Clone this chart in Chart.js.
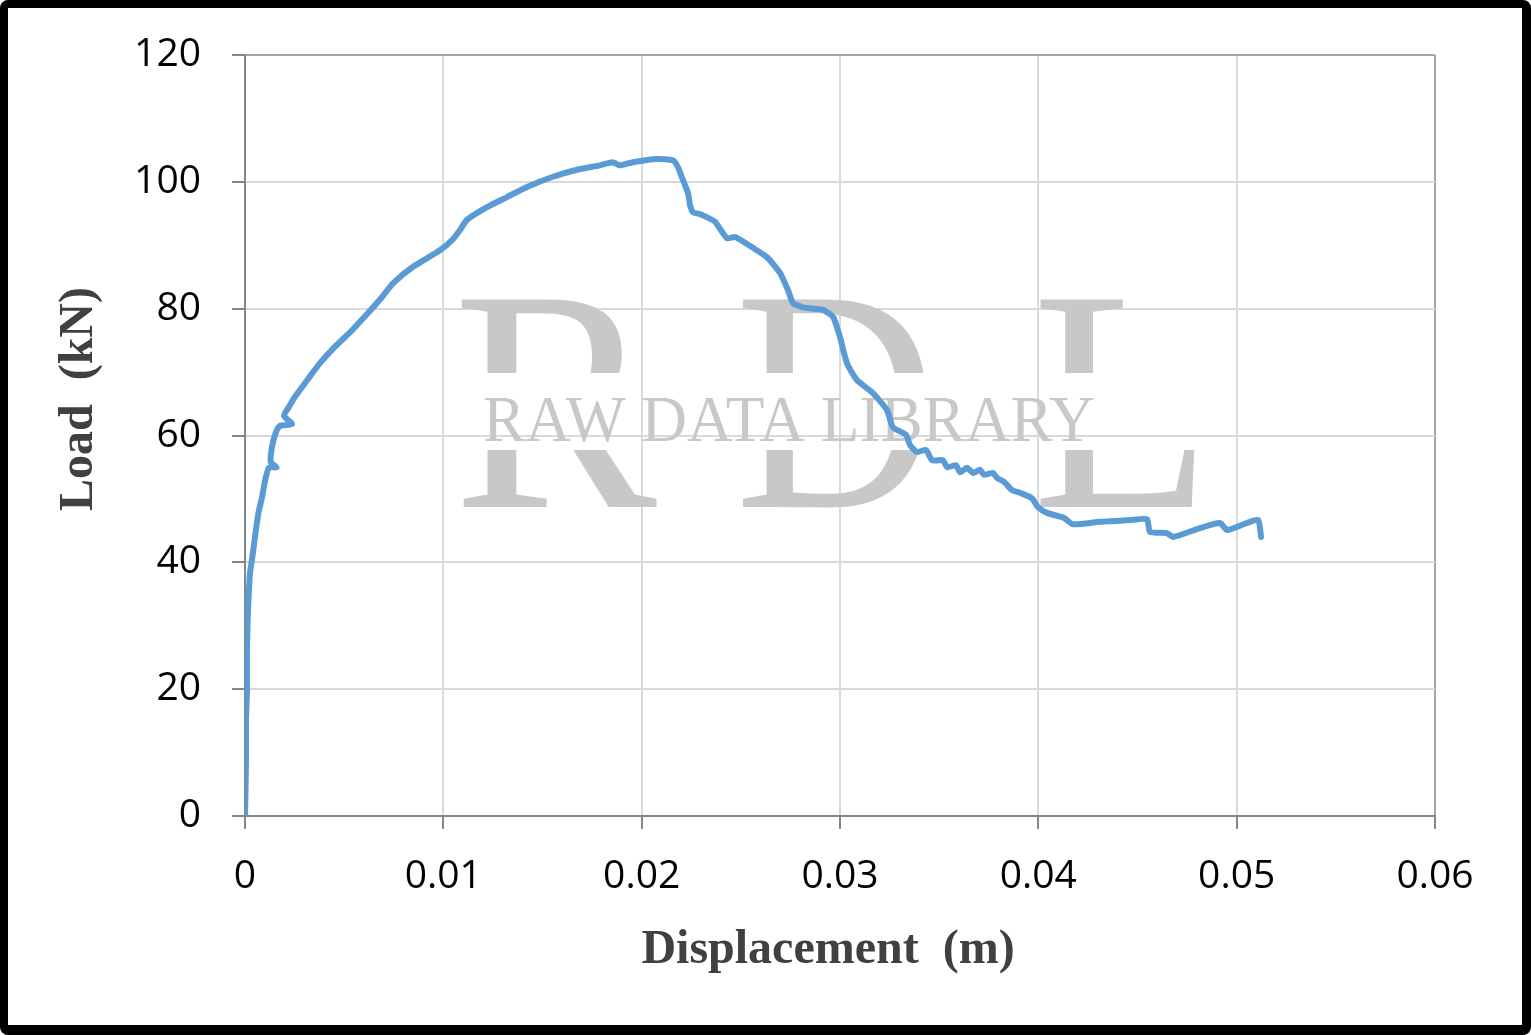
<!DOCTYPE html>
<html>
<head>
<meta charset="utf-8">
<script src="https://cdn.jsdelivr.net/npm/chart.js@4.4.0/dist/chart.umd.min.js"></script>
<style>
  html, body { margin: 0; padding: 0; background: #fff; }
  #frame {
    position: absolute; left: 0; top: 0;
    width: 1531px; height: 1035px; box-sizing: border-box;
    border-style: solid; border-color: #000;
    border-width: 8px 9px 10px 8px; border-radius: 8px;
    background: #fff;
  }
  #frame canvas { display: block; }
</style>
</head>
<body>
<div id="frame"><canvas id="loadChart" width="1514" height="1017"></canvas></div>
<script>
// Load-displacement curve
const displacement = [
  0, 0.00005, 0.00005, 0.0001, 0.0001, 0.00015, 0.0002, 0.00025, 0.00035, 0.00045,
  0.00066, 0.00086, 0.001, 0.0012, 0.0016, 0.0013, 0.00136, 0.00156, 0.00176, 0.00237,
  0.00197, 0.00227, 0.00252, 0.00313, 0.00378, 0.00454, 0.0054, 0.0062, 0.0069, 0.00746,
  0.00847, 0.00983, 0.01044, 0.01084, 0.01119, 0.0122, 0.01321, 0.01422, 0.01553, 0.01674,
  0.0179, 0.01855, 0.01891, 0.01956, 0.02077, 0.02158, 0.02183, 0.02208, 0.02234, 0.02244,
  0.02259, 0.02294, 0.0233, 0.0237, 0.0243, 0.02471, 0.02561, 0.02632, 0.02698, 0.02738,
  0.02763, 0.02813, 0.02914, 0.02965, 0.03, 0.03035, 0.03086, 0.03166, 0.03237, 0.03267,
  0.03333, 0.03353, 0.03388, 0.03434, 0.03464, 0.03519, 0.0354, 0.03585, 0.03605, 0.0364,
  0.03671, 0.03706, 0.03726, 0.03771, 0.03792, 0.03827, 0.03867, 0.03913, 0.03968, 0.03998,
  0.04044, 0.0413, 0.04175, 0.04311, 0.04477, 0.04548, 0.04563, 0.04649, 0.04679, 0.04815,
  0.04916, 0.04951, 0.05052, 0.05108, 0.05123
];
const load = [
  0, 8.8, 15.1, 19.9, 26.2, 32.5, 35.6, 38.3, 40.4, 42.7,
  47.5, 50.3, 52.7, 54.9, 55.0, 55.8, 58.2, 60.5, 61.5, 61.8,
  63.1, 64.8, 66.1, 68.7, 71.4, 74.0, 76.6, 79.3, 81.8, 84.0,
  86.6, 89.2, 90.8, 92.4, 94.0, 96.0, 97.6, 99.2, 100.8, 101.9,
  102.6, 103.1, 102.6, 103.1, 103.6, 103.4, 102.3, 100.3, 98.2, 96.3,
  95.2, 94.9, 94.4, 93.7, 91.1, 91.3, 89.6, 88.1, 85.6, 82.9,
  80.9, 80.2, 79.8, 78.7, 75.5, 71.4, 68.7, 66.7, 64.0, 61.3,
  60.1, 58.5, 57.4, 57.7, 56.1, 56.1, 55.0, 55.3, 54.2, 54.9,
  54.1, 54.6, 53.8, 54.1, 53.3, 52.7, 51.4, 50.9, 50.1, 48.7,
  47.8, 47.0, 46.0, 46.4, 46.7, 46.8, 44.8, 44.6, 44.0, 45.4,
  46.2, 45.1, 46.2, 46.7, 44.0
];
const xTicks = [0, 0.01, 0.02, 0.03, 0.04, 0.05, 0.06];
const yTicks = [0, 20, 40, 60, 80, 100, 120];

const points = displacement.map((d, i) => ({ x: d, y: load[i] }));

const axisGrey = '#868686';
const gridGrey = '#d9d9d9';
const edgeGrey = '#a6a6a6';
const tickFont = { family: 'Open Sans', size: 39 };

// grey watermark behind the curve
const watermark = {
  id: 'watermark',
  beforeDatasetsDraw(chart) {
    const ctx = chart.ctx;
    ctx.save();
    ctx.fillStyle = '#c8c8c8';
    ctx.textAlign = 'left';
    ctx.textBaseline = 'alphabetic';
    // big letters, cut by a white band where the small text sits
    ctx.save();
    ctx.beginPath();
    ctx.rect(0, 0, chart.width, 365);
    ctx.rect(0, 442, chart.width, chart.height - 442);
    ctx.clip();
    ctx.font = '317px "Liberation Serif"';
    ctx.fillText('R', 445, 499, 204);
    ctx.fillText('D', 727, 499, 202);
    ctx.fillText('L', 1024, 499, 180);
    ctx.restore();
    ctx.font = '66px "Liberation Serif"';
    ctx.fillText('RAW DATA LIBRARY', 475, 433, 612);
    ctx.restore();
  }
};

// axis titles in bold serif
const axisTitles = {
  id: 'axisTitles',
  afterDraw(chart) {
    const ctx = chart.ctx;
    ctx.save();
    ctx.fillStyle = '#404040';
    ctx.font = 'bold 48px "Liberation Serif"';
    ctx.textAlign = 'center';
    ctx.textBaseline = 'middle';
    ctx.fillText('Displacement  (m)', 820, 943);
    ctx.translate(72, 391);
    ctx.rotate(-Math.PI / 2);
    ctx.fillText('Load  (kN)', 0, 0);
    ctx.restore();
  }
};

new Chart(document.getElementById('loadChart'), {
  type: 'scatter',
  data: {
    datasets: [{
      data: points,
      showLine: true,
      borderColor: '#5b9bd5',
      borderWidth: 6,
      pointRadius: 0,
      tension: 0.2,
      borderCapStyle: 'round',
      borderJoinStyle: 'round'
    }]
  },
  options: {
    responsive: false,
    animation: false,
    layout: { padding: { top: 47, right: 87, left: 0, bottom: 0 } },
    plugins: { legend: { display: false }, tooltip: { enabled: false } },
    scales: {
      x: {
        type: 'linear',
        min: 0, max: 0.06,
        afterBuildTicks: s => { s.ticks = xTicks.map(v => ({ value: v })); },
        afterFit: s => { s.height = 209; s.paddingLeft = 0; s.paddingRight = 0; },
        ticks: {
          color: '#000', font: tickFont, padding: 24, maxRotation: 0,
          callback: v => String(+v.toFixed(2))
        },
        grid: {
          color: c => (c.tick && c.tick.value === 0.06 ? edgeGrey : gridGrey),
          lineWidth: 2, tickLength: 13, tickColor: axisGrey, tickWidth: 2
        },
        border: { color: axisGrey, width: 2 }
      },
      y: {
        min: 0, max: 120,
        afterBuildTicks: s => { s.ticks = yTicks.map(v => ({ value: v })); },
        afterFit: s => { s.width = 237; s.paddingTop = 0; s.paddingBottom = 0; },
        ticks: { color: '#000', font: tickFont, padding: 31 },
        grid: {
          color: c => (c.tick && c.tick.value === 120 ? edgeGrey : gridGrey),
          lineWidth: 2, tickLength: 13, tickColor: axisGrey, tickWidth: 2
        },
        border: { color: axisGrey, width: 2 }
      }
    }
  },
  plugins: [watermark, axisTitles]
});
</script>
</body>
</html>
